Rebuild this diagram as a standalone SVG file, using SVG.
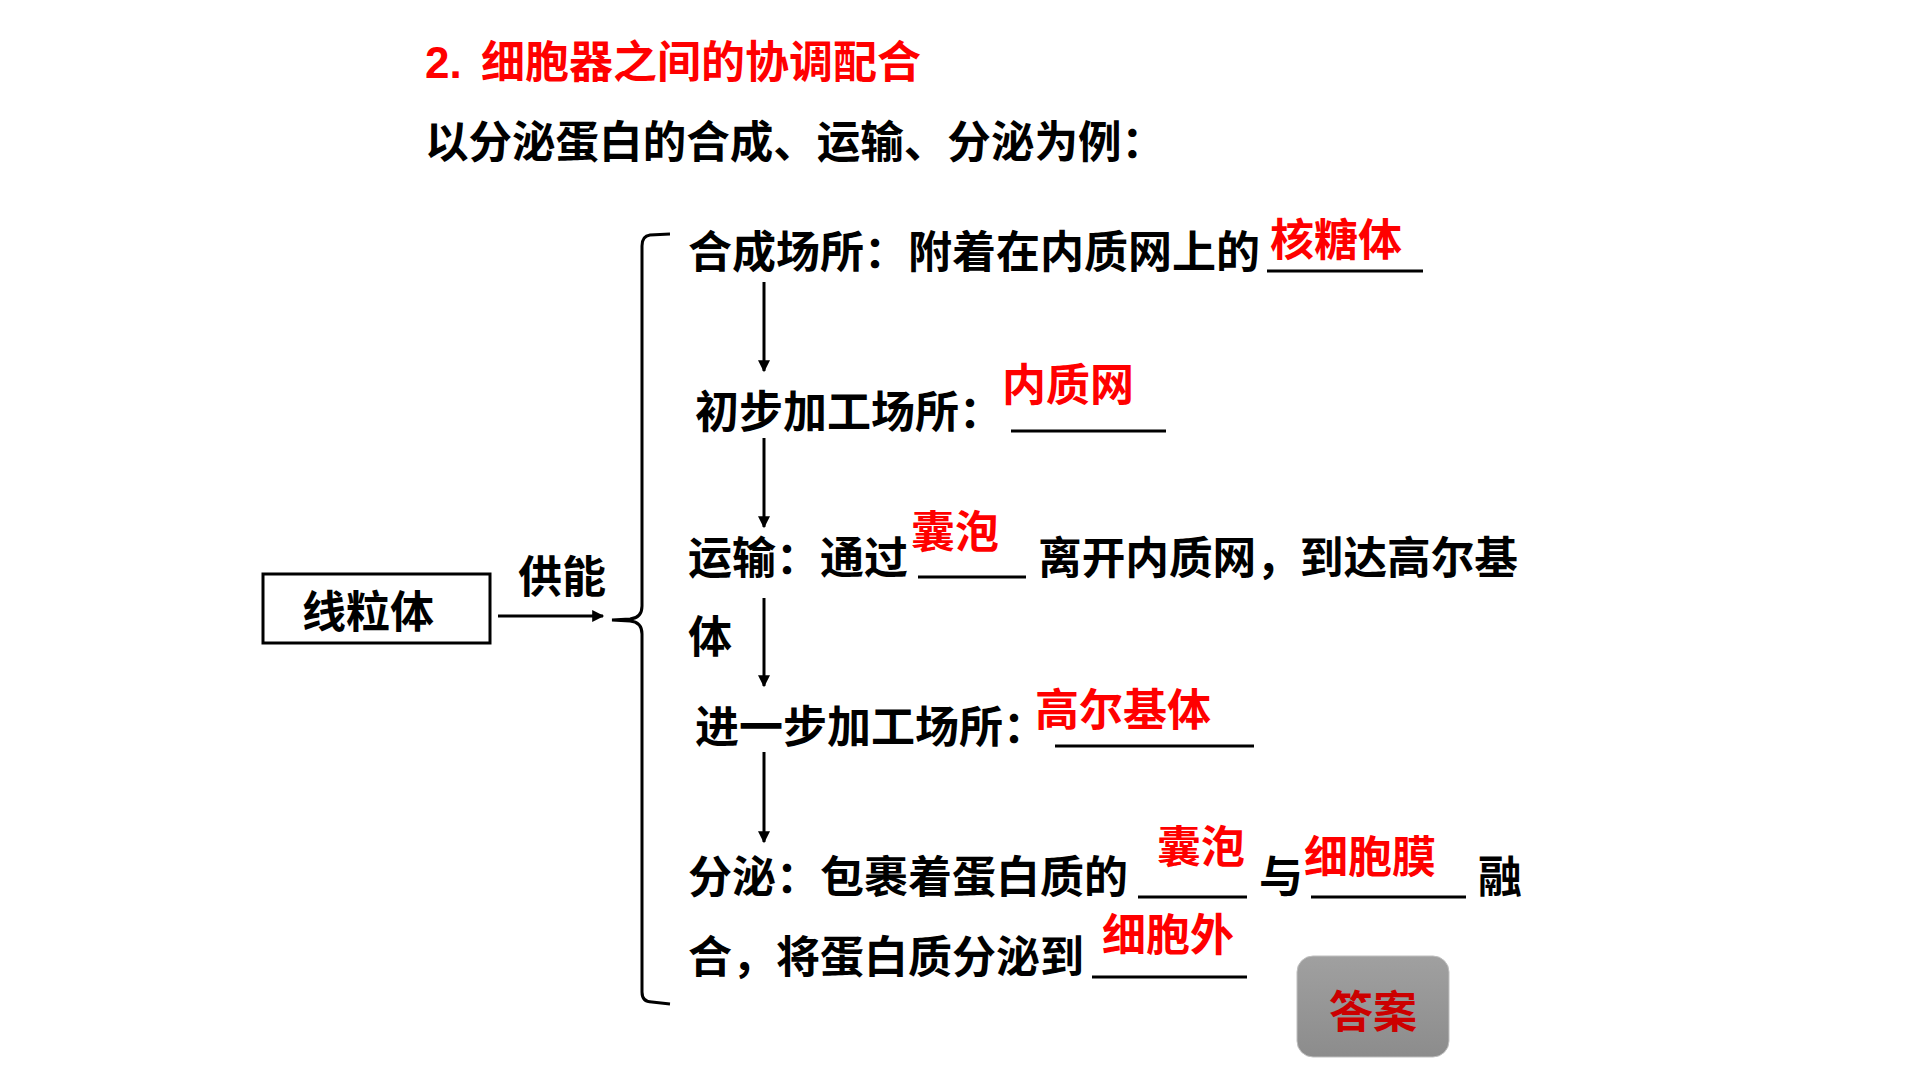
<svg xmlns="http://www.w3.org/2000/svg" width="1920" height="1080" viewBox="0 0 1920 1080">
<style>
text{font-family:"Liberation Sans","Noto Sans CJK SC",sans-serif;font-weight:bold;font-size:44px;fill:#000}
.red{fill:#ff0000}
.ul{stroke:#000;stroke-width:3}
.conn{stroke:#000;stroke-width:3;fill:none}
</style>
<defs>
<marker id="ah" viewBox="0 0 10 10" refX="9" refY="5" markerWidth="4.5" markerHeight="4" orient="auto" markerUnits="strokeWidth">
<path d="M0,0 L10,5 L0,10 Z" fill="#000"/>
</marker>
<linearGradient id="btn" x1="0" y1="0" x2="0" y2="1">
<stop offset="0" stop-color="#a0a0a0"/>
<stop offset="1" stop-color="#8c8c8c"/>
</linearGradient>
</defs>
<rect width="1920" height="1080" fill="#fff"/>

<g id="title">
<text x="425" y="78" class="red">2.<tspan x="481">细胞器之间的协调配合</tspan></text>
<text x="425" y="158" textLength="740" lengthAdjust="spacingAndGlyphs">以分泌蛋白的合成、运输、分泌为例：</text>
</g>

<g id="mito">
<rect x="263" y="574" width="227" height="69" fill="#fff" stroke="#000" stroke-width="3"/>
<text x="302" y="628">线粒体</text>
</g>

<g id="supply">
<text x="518" y="593">供能</text>
</g>

<g id="connectors">
<line class="conn" x1="498" y1="616" x2="603" y2="616" marker-end="url(#ah)"/>
<path class="conn" d="M670,234 L650,235 Q642,236 642,246 L642,606 Q642,618 630,619 L612,620 L630,621 Q642,622 642,634 L642,992 Q642,1002 652,1002 L670,1004"/>
<line class="conn" x1="764" y1="282" x2="764" y2="371" marker-end="url(#ah)"/>
<line class="conn" x1="764" y1="438" x2="764" y2="527" marker-end="url(#ah)"/>
<line class="conn" x1="764" y1="598" x2="764" y2="686" marker-end="url(#ah)"/>
<line class="conn" x1="764" y1="752" x2="764" y2="842" marker-end="url(#ah)"/>
</g>

<g id="step1">
<text x="688" y="268">合成场所：附着在内质网上的</text>
<line class="ul" x1="1267" y1="271" x2="1423" y2="271"/>
<text x="1270" y="256" class="red">核糖体</text>
</g>

<g id="step2">
<text x="695" y="428">初步加工场所：</text>
<line class="ul" x1="1011" y1="431" x2="1166" y2="431"/>
<text x="1002" y="401" class="red">内质网</text>
</g>

<g id="step3">
<text x="688" y="574">运输：通过</text>
<line class="ul" x1="918" y1="577" x2="1026" y2="577"/>
<text x="1038" y="574" textLength="480" lengthAdjust="spacingAndGlyphs">离开内质网，到达高尔基</text>
<text x="688" y="653">体</text>
<text x="911" y="548" class="red">囊泡</text>
</g>

<g id="step4">
<text x="695" y="743">进一步加工场所：</text>
<line class="ul" x1="1055" y1="746" x2="1254" y2="746"/>
<text x="1035" y="726" class="red">高尔基体</text>
</g>

<g id="step5">
<text x="688" y="893">分泌：包裹着蛋白质的</text>
<line class="ul" x1="1138" y1="897" x2="1247" y2="897"/>
<text x="1259" y="893">与</text>
<line class="ul" x1="1311" y1="897" x2="1466" y2="897"/>
<text x="1478" y="893">融</text>
<text x="1157" y="863" class="red">囊泡</text>
<text x="1304" y="873" class="red">细胞膜</text>
<text x="688" y="973">合，将蛋白质分泌到</text>
<line class="ul" x1="1092" y1="977" x2="1247" y2="977"/>
<text x="1102" y="951" class="red">细胞外</text>
</g>

<g id="answer">
<rect x="1297" y="956" width="152" height="101" rx="16" fill="url(#btn)" stroke="#bfbfbf" stroke-width="1"/>
<text x="1373" y="1028" text-anchor="middle" style="fill:#cc0000">答案</text>
</g>
</svg>
